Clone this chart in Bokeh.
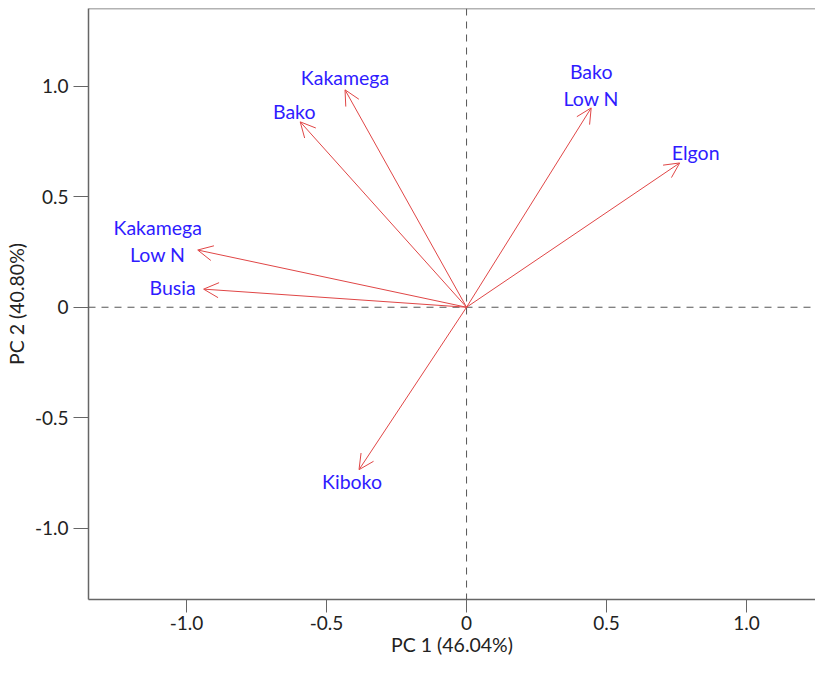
from bokeh.plotting import figure
from bokeh.models import (ColumnDataSource, Arrow, OpenHead, Span, Range1d,
                          FixedTicker, CustomJSTickFormatter)
from bokeh.core.properties import value
from bokeh.embed import file_html
from bokeh.resources import INLINE

# Loadings (PC1, PC2)
names = ["Kakamega", "Bako", "Bako\nLow N", "Elgon", "Kakamega\nLow N", "Busia", "Kiboko"]
pc1 = [-0.434, -0.594, 0.445, 0.761, -0.960, -0.939, -0.384]
pc2 = [0.984, 0.839, 0.902, 0.653, 0.259, 0.082, -0.735]
x_ticks = [-1.0, -0.5, 0, 0.5, 1.0]
y_ticks = [-1.0, -0.5, 0, 0.5, 1.0]
x_title = "PC 1 (46.04%)"
y_title = "PC 2 (40.80%)"

# label placement styles (screen pixels, relative to arrow tip)
dx = [0, -6, 0, 16, -40, -31, -7]
dy = [-12, -10, -23, -10, -9, -2, 12]

FONT = "Lato"
Y_TOP = 1.352
p = figure(width=815, height=658, output_backend="svg", toolbar_location=None,
           x_range=Range1d(-1.35, 1.246), y_range=Range1d(-1.3226, Y_TOP),
           min_border_left=88, min_border_right=0, min_border_top=8,
           min_border_bottom=59)
p.outline_line_color = None
p.grid.visible = False
p.background_fill_color = "white"
p.border_fill_color = "white"

src = ColumnDataSource(dict(x0=[0.0] * len(pc1), y0=[0.0] * len(pc1),
                            x1=pc1, y1=pc2, name=names, dx=dx, dy=dy))

p.add_layout(Span(location=0, dimension="height", line_color="#555555",
                  line_dash="7 6", line_width=1))
p.add_layout(Span(location=0, dimension="width", line_color="#555555",
                  line_dash="7 6", line_width=1))
p.add_layout(Span(location=Y_TOP, dimension="width", line_color="#666666",
                  line_width=1.5))

p.add_layout(Arrow(source=src, x_start="x0", y_start="y0", x_end="x1", y_end="y1",
                   line_color="#e04646", line_width=1,
                   end=OpenHead(size=15, line_color="#e04646", line_width=1)))

p.text(x="x1", y="y1", text="name", source=src, x_offset="dx", y_offset="dy",
       text_align="center", text_baseline="middle", text_color="#2f1cff",
       text_font=value(FONT), text_font_size="19.5px", text_line_height=1.14)

fmt = CustomJSTickFormatter(code="return tick == 0 ? '0' : tick.toFixed(1);")
for ax, ticks in ((p.xaxis[0], x_ticks), (p.yaxis[0], y_ticks)):
    ax.ticker = FixedTicker(ticks=ticks)
    ax.formatter = fmt
    ax.minor_tick_line_color = None
    ax.major_tick_in = 0
    ax.major_tick_line_color = "#666666"
    ax.axis_line_color = "#666666"
    ax.axis_line_width = 1.5
    ax.major_label_text_font = FONT
    ax.major_label_text_font_size = "19px"
    ax.major_label_text_color = "#222222"
    ax.axis_label_text_font = FONT
    ax.axis_label_text_font_size = "19.5px"
    ax.axis_label_text_font_style = "normal"
    ax.axis_label_text_color = "#222222"

p.xaxis.major_tick_out = 13
p.yaxis.major_tick_out = 15
p.xaxis.axis_label = x_title
p.yaxis.axis_label = y_title
p.xaxis.major_label_standoff = 3
p.yaxis.major_label_standoff = 5
p.xaxis.axis_label_standoff = 0
p.yaxis.axis_label_standoff = 4

open("out.html", "w").write(file_html(p, INLINE))
